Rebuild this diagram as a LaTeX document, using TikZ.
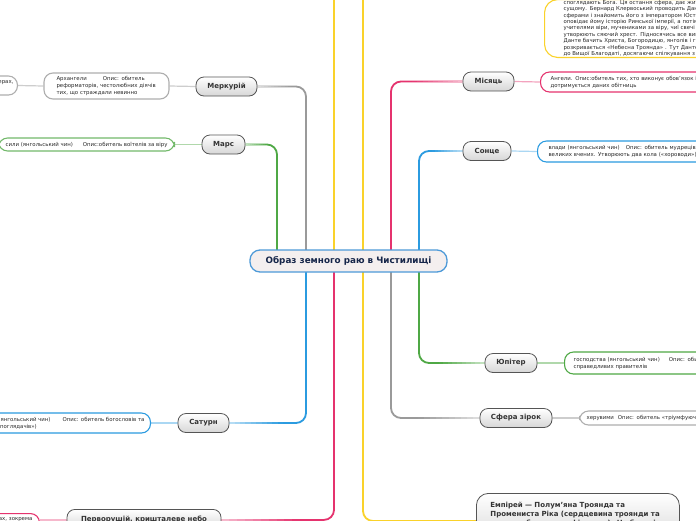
\documentclass[tikz,border=0pt]{standalone}
\usepackage{fontspec}
\setmainfont{DejaVu Sans}
\usetikzlibrary{calc}
\definecolor{cgray}{HTML}{9A9A9A}
\definecolor{cgreen}{HTML}{4FA845}
\definecolor{cpink}{HTML}{E5336E}
\definecolor{cblue}{HTML}{2B9BE0}
\definecolor{cyellow}{HTML}{FAD22A}
\definecolor{pborder}{HTML}{555555}
\definecolor{ptext}{HTML}{333333}
\definecolor{ctext}{HTML}{16264A}
\definecolor{cfill}{HTML}{F4EFEF}
\definecolor{cborder}{HTML}{4E9AD8}
\definecolor{dtext}{HTML}{2A2A2A}
\pgfdeclarelayer{bg}
\pgfsetlayers{bg,main}
\tikzset{
  planet/.style={draw=pborder, line width=0.8pt, rounded corners=8pt, top color=white, bottom color=black!16, text=ptext, font=\fontsize{7}{8.5}\selectfont\bfseries, minimum height=19pt, inner xsep=4pt, inner ysep=2pt},
  desc/.style={fill=white, line width=1.1pt, rounded corners=9pt, text=dtext, font=\fontsize{5.4}{7}\selectfont, align=left, inner ysep=2pt},
  branch/.style={line width=1.8pt, rounded corners=10pt},
  twig/.style={line width=1.2pt},
}
\newcommand{\mmfade}[3]{%
  \foreach \k in {0,...,9}{%
    \pgfmathsetmacro{\mma}{\k*0.07}%
    \pgfmathsetmacro{\mmb}{(\k+1)*0.07}%
    \pgfmathtruncatemacro{\mmc}{35+7*\k}%
    \draw[line width=1.8pt, #1!\mmc!white] ($#2!\mma!#3$) -- ($#2!\mmb!#3$);
  }}
\begin{document}
\begin{tikzpicture}[x=1pt,y=-1pt]
\useasboundingbox (0,0) rectangle (696,520);
% central topic
\node[draw=cborder, fill=cfill, line width=1.3pt, rounded corners=10pt, minimum width=197pt, minimum height=22pt, font=\fontsize{8.8}{10}\selectfont\bfseries, text=ctext] (center) at (348.5,261) {Образ земного раю в Чистилищі};
% planets
\node[planet, minimum width=61pt] (merc) at (226.5,86.5) {Меркурій};
\node[planet, minimum width=43pt] (mars) at (223.5,144.5) {Марс};
\node[planet, minimum width=51pt] (moon) at (488.5,81.5) {Місяць};
\node[planet, minimum width=48pt] (sun) at (487,151) {Сонце};
\node[planet, minimum width=52pt] (jup) at (511,363) {Юпітер};
\node[planet, minimum width=72pt] (stars) at (516,418) {Сфера зірок};
\node[planet, minimum width=51pt] (sat) at (203.5,423) {Сатурн};
\node[planet, minimum width=154pt, minimum height=21pt, anchor=north] (prim) at (144,509) {Перворушій, кришталеве небо};
\node[planet, anchor=north west, text width=175pt, inner xsep=14pt, inner ysep=9pt, align=left, font=\fontsize{7}{9}\selectfont\bfseries, rounded corners=12pt] (emp) at (476,493) {Емпірей — Полум’яна Троянда та\\Промениста Ріка (сердцевина троянди та\\арена небесного амфітеатру). На березі\\ріки};
% descriptions
\node[desc, draw=cgray!80, text width=100pt, inner xsep=12.5pt, minimum height=26pt] (mercd) at (106.5,86) {Архангели\hspace{16pt}Опис: обитель\\реформаторів, честолюбних діячів\\тих, що страждали невинно};
\node[desc, draw=cgray!80, anchor=east, text width=60pt, align=right, inner xsep=4pt, minimum height=19pt] (mercd2) at (18,85.5) {сферах,\\ \mbox{}};
\node[desc, draw=cgreen!80, anchor=east, minimum height=13pt, inner xsep=7pt, inner ysep=1pt] (marsd) at (175,144.5) {сили (янгольський чин)\hspace{10pt}Опис:обитель воїтелів за віру};
\node[desc, draw=cpink, anchor=west, text width=250pt, inner xsep=10pt, minimum height=20pt] (moond) at (540,82) {Ангели. Опис:обитель тих, хто виконує обов’язок і\\дотримується даних обітниць};
\node[desc, draw=cblue, anchor=west, text width=250pt, inner xsep=11pt, minimum height=21pt] (sund) at (537,151.5) {влади (янгольський чин)\hspace{6pt}Опис: обитель мудреців\\великих вчених. Утворюють два кола («хороводи»)};
\node[desc, draw=cgreen, anchor=west, text width=250pt, inner xsep=9pt, minimum height=22pt] (jupd) at (564,363) {господства (янгольський чин)\hspace{9pt}Опис: обитель\\справедливих правителів};
\node[desc, draw=cgray!80, anchor=west, text width=250pt, inner xsep=7pt, minimum height=14pt, inner ysep=1pt] (stard) at (579,418) {херувими\hspace{4pt}Опис: обитель «тріумфуючих»};
\node[desc, draw=cblue, anchor=east, inner xsep=6pt, minimum height=20pt] (satd) at (151,423) {престоли (янгольський чин)\hspace{12pt}Опис: обитель богословів та\\вчених («споглядачів»)};
\node[desc, draw=cpink, anchor=north east, text width=80pt, align=right, inner xsep=7pt, inner ysep=3pt] (primd) at (40,513) {у сферах, зокрема\\ \mbox{}};
\node[desc, draw=cyellow, anchor=south west, text width=250pt, inner xsep=19pt, inner ysep=0.8pt, font=\fontsize{5.4}{6.4}\selectfont, rounded corners=13pt] (empd) at (544,58) {споглядають Бога. Ця остання сфера, дає життя всьому\\сущому. Бернард Клервоський проводить Данте\\сферами і знайомить його з імператором Юстиніаном, який\\оповідає йому історію Римської імперії, а потім\\учителями віри, мучениками за віру, чиї свечі\\утворюють сяючий хрест. Підносячись все вище,\\Данте бачить Христа, Богородицю, янголів і головних\\розкривається «Небесна Троянда» . Тут Данте\\до Вищої Благодаті, досягаючи спілкування з Богом};
% branch coordinates
\coordinate (gx) at (306,0);
\coordinate (gx2) at (277,0);
\coordinate (yx1) at (334,0);
\coordinate (yx2) at (363,0);
\coordinate (rx1) at (391,0);
\coordinate (rx2) at (419,0);
\coordinate (ytop1) at (334,-10);
\coordinate (ytop2) at (363,-10);
\coordinate (yend) at (476,521);
\begin{pgfonlayer}{bg}
\fill[white] (0,0) rectangle (696,520);
\draw[branch, cgray] (merc.east) -| (gx |- center);
\draw[branch, cgreen] (mars.east) -| (gx2 |- center);
\draw[branch, cblue] (sat.east) -| (gx |- center);
\draw[branch, cpink] (prim.east) -| (yx1 |- center);
\draw[branch, cyellow] (ytop1) -- (yx1 |- center);
\draw[branch, cyellow] (ytop2) -- (yx2 |- center);
\draw[branch, cyellow] (yx2 |- center) |- (yend);
\draw[branch, cpink] (moon.west) -| (rx1 |- center);
\draw[branch, cblue] (sun.west) -| (rx2 |- center);
\draw[branch, cgreen] (jup.west) -| (rx2 |- center);
\draw[branch, cgray] (stars.west) -| (rx1 |- center);
\mmfade{cgray}{(merc.east)}{(gx |- merc.east)}
\mmfade{cgreen}{(mars.east)}{(gx2 |- mars.east)}
\mmfade{cblue}{(sat.east)}{(gx |- sat.east)}
\mmfade{cpink}{(prim.east)}{(yx1 |- prim.east)}
\mmfade{cpink}{(moon.west)}{(rx1 |- moon.west)}
\mmfade{cblue}{(sun.west)}{(rx2 |- sun.west)}
\mmfade{cgreen}{(jup.west)}{(rx2 |- jup.west)}
\mmfade{cgray}{(stars.west)}{(rx1 |- stars.west)}
\draw[twig, cgray!50] (merc.west) -- (mercd.east);
\draw[twig, cgray!50] (mercd.west) -- (mercd2.east);
\draw[twig, cgreen!45] (mars.west) -- (marsd.east);
\draw[twig, cpink!45] (moon.east) -- (moond.west);
\draw[twig, cblue!40] (sun.east) -- (sund.west);
\draw[twig, cgreen!45] (jup.east) -- (jupd.west);
\draw[twig, cgray!50] (stars.east) -- (stard.west);
\draw[twig, cblue!40] (sat.west) -- (satd.east);
\draw[twig, cpink!35] (prim.west) -- (primd.east |- prim.west);
\end{pgfonlayer}
\end{tikzpicture}
\end{document}
